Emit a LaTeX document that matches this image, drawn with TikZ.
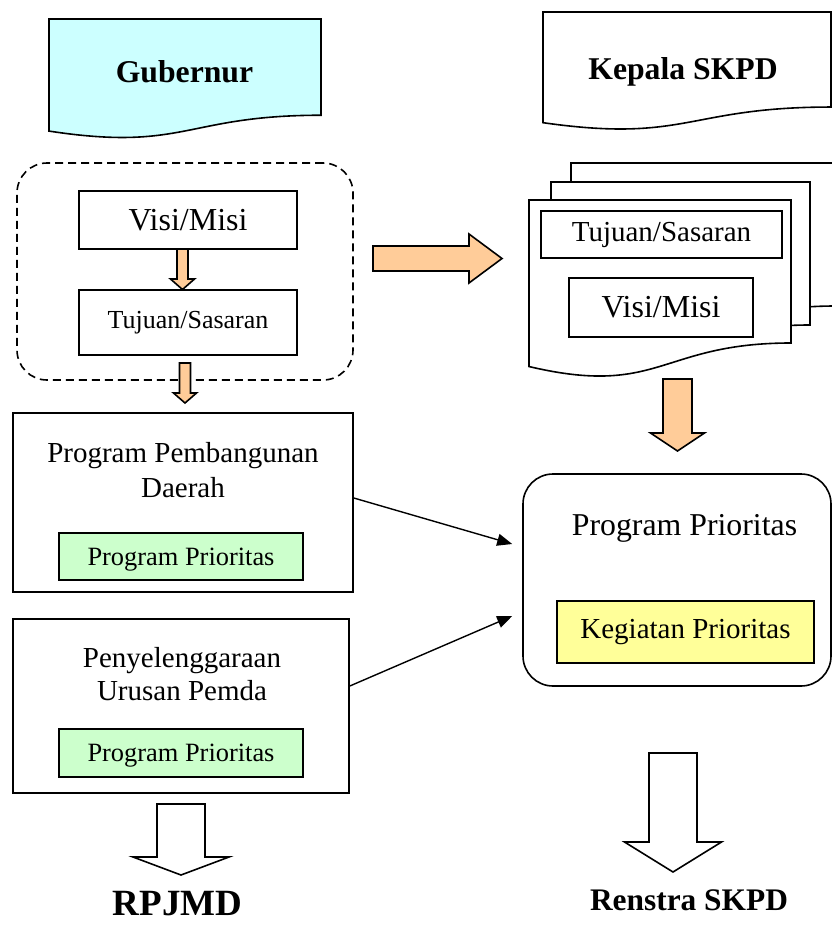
\documentclass[tikz,border=0pt]{standalone}
\usepackage{fontspec}
\setmainfont{Liberation Serif}
\usetikzlibrary{arrows.meta}
\definecolor{paleblue}{HTML}{CCFFFF}
\definecolor{peach}{HTML}{FFCC99}
\definecolor{palegreen}{HTML}{CCFFCC}
\definecolor{paleyellow}{HTML}{FFFF99}
\newcommand{\docpath}[5]{\draw[line width=1.6pt,fill=#5] (#1,#2) -- ({#1+#3},#2) -- ({#1+#3},{#2+0.802*#4}) .. controls ({#1+0.5*#3},{#2+0.802*#4}) and ({#1+0.5*#3},{#2+1.1075*#4}) .. (#1,{#2+0.934*#4}) -- cycle;}
\newcommand{\blockdown}[7]{\draw[line width=1.6pt,line join=miter,fill=#1] ({#2-#6},#3) -- ({#2+#6},#3) -- ({#2+#6},#4) -- ({#2+#7},#4) -- (#2,#5) -- ({#2-#7},#4) -- ({#2-#6},#4) -- cycle;}
\begin{document}
\begin{tikzpicture}[x=1pt,y=-1pt,box/.style={draw,line width=1.6pt,inner sep=0pt,align=center},lbl/.style={inner sep=0pt,anchor=base},conn/.style={-{Triangle[length=15pt,width=12pt]},line width=1.4pt}]
\useasboundingbox (0,0) rectangle (832,932);
\docpath{49}{19}{272}{120}{paleblue}
\node[lbl,font=\fontsize{31.7}{38}\selectfont\bfseries] (gub) at (184.5,82) {Gubernur};
\docpath{543}{12}{288}{118.5}{white}
\node[lbl,font=\fontsize{31.7}{38}\selectfont\bfseries] (kepala) at (683,79) {Kepala SKPD};
\node[box,dashed,dash pattern=on 8pt off 5pt,rounded corners=30pt,minimum width=336pt,minimum height=217pt] (visiblk) at (185,271.5) {};
\node[box,minimum width=218pt,minimum height=58pt,font=\fontsize{32}{38}\selectfont] (visiL) at (188,220) {Visi/Misi};
\node[box,minimum width=218pt,minimum height=65pt,font=\fontsize{26}{31}\selectfont] (tujL) at (188,322.5) {Tujuan/Sasaran};
\blockdown{peach}{182.5}{249}{279}{289.5}{5.5}{12}
\blockdown{peach}{185}{363}{393}{403}{5.5}{11.5}
\draw[line width=1.6pt,line join=miter,fill=peach] (373,246) -- (469,246) -- (469,234) -- (502,258.5) -- (469,283) -- (469,271) -- (373,271) -- cycle;
\docpath{571}{163}{265}{178.3}{white}
\docpath{551}{182}{259}{178.3}{white}
\docpath{529}{200}{262}{178.3}{white}
\node[box,minimum width=241pt,minimum height=47pt,font=\fontsize{29}{35}\selectfont] (tujR) at (661.5,234.5) {Tujuan/Sasaran};
\node[box,minimum width=184pt,minimum height=59pt,font=\fontsize{32}{38}\selectfont] (visiR) at (661,307.5) {Visi/Misi};
\blockdown{peach}{677.5}{379}{433}{451}{14.5}{27}
\node[box,minimum width=340pt,minimum height=179pt] (ppd) at (183,502.5) {};
\node[inner sep=0pt,align=center,font=\fontsize{29}{35}\selectfont] (ppdtext) at (183,470) {Program Pembangunan\\Daerah};
\node[box,fill=palegreen,text depth=0pt,minimum width=244pt,minimum height=47pt,font=\fontsize{26.4}{32}\selectfont] (prog1) at (181,556.5) {Program Prioritas};
\node[box,minimum width=336pt,minimum height=174pt] (upr) at (181,706) {};
\node[inner sep=0pt,align=center,font=\fontsize{29}{33}\selectfont] (uprtext) at (182,673.6) {Penyelenggaraan\\Urusan Pemda};
\node[box,fill=palegreen,text depth=0pt,minimum width=244pt,minimum height=48pt,font=\fontsize{26.4}{32}\selectfont] (prog2) at (181,753) {Program Prioritas};
\node[box,rounded corners=30pt,minimum width=308pt,minimum height=212pt] (progp) at (677,580) {};
\node[lbl,font=\fontsize{31.8}{38}\selectfont] (progptitle) at (684.5,535) {Program Prioritas};
\node[box,fill=paleyellow,minimum width=257pt,minimum height=62pt,font=\fontsize{29}{35}\selectfont] (keg) at (685.5,632) {Kegiatan Prioritas};
\foreach \a/\s/\t in {ppd/4.5/36,upr/20/-36}{\draw[conn] ([yshift=\s pt]\a.east) -- ([xshift=-10pt,yshift=\t pt]progp.west);}
\blockdown{white}{181}{804}{857}{875}{24}{48}
\node[lbl,font=\fontsize{37}{44}\selectfont\bfseries] (rpjmd) at (177.5,915) {RPJMD};
\blockdown{white}{673}{753}{842}{872}{24}{48.5}
\node[lbl,font=\fontsize{31.4}{38}\selectfont\bfseries] (renstra) at (689,910) {Renstra SKPD};
\end{tikzpicture}
\end{document}
